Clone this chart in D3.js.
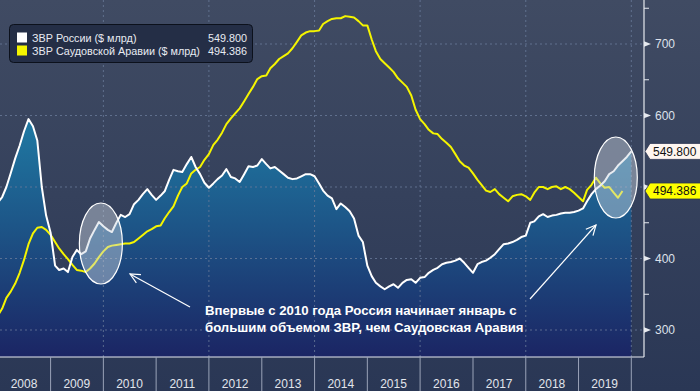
<!DOCTYPE html>
<html>
<head>
<meta charset="utf-8">
<script src="https://cdn.jsdelivr.net/npm/d3@7"></script>
<style>
  html, body { margin: 0; padding: 0; background: #2f3b57; }
  svg { display: block; }
</style>
</head>
<body>
<div id="chart"></div>
<script>
// monthly reserves, starting Jan 2008
const startMonth = "2008-01";
const russia = [
  478, 486, 500, 520, 540, 558, 578, 595, 585, 565, 500, 460,
  436, 390, 384, 386, 381, 402, 412, 406, 410, 428, 440, 451,
  445, 440, 437, 450, 461, 458, 462, 476, 482, 490, 497, 489,
  482, 488, 494, 510, 524, 522, 521, 532, 542, 528, 518, 506,
  499, 505, 511, 516, 525, 514, 512, 507, 518, 529, 528, 530,
  539, 532, 526, 528, 523, 518, 513, 511, 512, 515, 518, 518,
  515, 505, 495, 488, 484, 469, 477, 472, 466, 456, 432, 423,
  390, 375, 366, 361, 357, 361, 364, 359, 366, 370, 371, 366,
  373, 374, 380, 384, 387, 392, 394, 395, 397, 400, 394, 387,
  380, 392, 395, 397, 401, 406, 413, 420, 421, 423, 426, 430,
  432, 450, 452, 459, 462, 458, 460, 461, 463, 464, 464, 465,
  467, 470, 480, 490, 497, 502, 508, 518, 522, 530, 536, 542,
  549.8
];
const saudi = [
  320, 330, 345, 354, 365, 380, 398, 420, 435, 443, 444, 440,
  433, 423, 414, 406, 399, 391, 384, 383, 381, 386, 393, 402,
  410, 416, 418, 419, 420, 421, 421, 423, 428, 433, 438, 441,
  445, 446, 456, 465, 473, 488, 500, 505, 519, 524, 528, 538,
  546, 559, 566, 576, 588, 596, 603, 610, 620, 630, 640, 651,
  655, 656, 666, 672, 679, 683, 687, 694, 703, 712, 716, 718,
  718, 719, 728, 732, 735, 736, 736, 739, 738, 737, 732, 726,
  726, 706, 690, 679, 673, 667, 661, 652, 646, 640, 628, 608,
  595, 588, 580, 575, 574, 567, 562, 556, 546, 536, 530, 527,
  519, 510, 503, 495, 493, 497, 490, 485, 480, 487, 489, 490,
  487, 482, 492, 500, 500, 497, 500, 501, 497, 500, 497, 492,
  486, 480, 496, 503, 513, 505, 499, 500, 492, 485, 494.386
];
const years = [2008, 2009, 2010, 2011, 2012, 2013, 2014, 2015, 2016, 2017, 2018, 2019];
const yTicks = [300, 400, 500, 600, 700];
const yLabels = [300, 400, 600, 700]; // 500 sits under the yellow callout
const yMinorTicks = [350, 450, 550, 650, 750];
const gridYears = [2010, 2012, 2014, 2016, 2018, 2020];
const legendItems = [
  { name: "ЗВР России ($ млрд)", value: "549.800", color: "#ffffff" },
  { name: "ЗВР Саудовской Аравии ($ млрд)", value: "494.386", color: "#f5f500" }
];
const highlightMonths = ["2010-01", "2020-01"];
const noteLines = [
  "Впервые с 2010 года Россия начинает январь с",
  "большим объемом ЗВР, чем Саудовская Аравия"
];

const W = 700, H = 391;
const plotRight = 644, plotBottom = 357;

const parseMonth = d3.timeParse("%Y-%m");
const start = parseMonth(startMonth);
const ruData = russia.map((v, i) => ({ date: d3.timeMonth.offset(start, i), value: v }));
const saData = saudi.map((v, i) => ({ date: d3.timeMonth.offset(start, i), value: v }));

const x = d3.scaleTime()
  .domain([new Date(2008, 0, 1), new Date(2020, 0, 1)])
  .range([-2.3, 631.3]);
const y = d3.scaleLinear()
  .domain([300, 700])
  .range([330, 44]);

const svg = d3.select("#chart").append("svg")
  .attr("width", W)
  .attr("height", H);

const defs = svg.append("defs");
const bg = defs.append("linearGradient").attr("id", "bg")
  .attr("x1", 0).attr("y1", 0).attr("x2", 0).attr("y2", 1);
bg.append("stop").attr("offset", "0%").attr("stop-color", "#404b63");
bg.append("stop").attr("offset", "100%").attr("stop-color", "#2a3755");

const areaGrad = defs.append("linearGradient").attr("id", "areaGrad")
  .attr("gradientUnits", "userSpaceOnUse")
  .attr("x1", 0).attr("y1", 115).attr("x2", 0).attr("y2", plotBottom);
areaGrad.append("stop").attr("offset", "0%").attr("stop-color", "#1f7ba4");
areaGrad.append("stop").attr("offset", "45%").attr("stop-color", "#1d5688");
areaGrad.append("stop").attr("offset", "100%").attr("stop-color", "#1b2564");

const clip = defs.append("clipPath").attr("id", "plotClip");
clip.append("rect").attr("x", 0).attr("y", 0).attr("width", plotRight).attr("height", plotBottom);

svg.append("rect").attr("width", W).attr("height", H).attr("fill", "url(#bg)");

const plot = svg.append("g").attr("clip-path", "url(#plotClip)");

// russia area
const area = d3.area()
  .x(d => x(d.date))
  .y0(plotBottom)
  .y1(d => y(d.value));
plot.append("path")
  .datum(ruData)
  .attr("d", area)
  .attr("fill", "url(#areaGrad)");

// gridlines
plot.selectAll(".hgrid")
  .data(yTicks)
  .enter().append("line")
  .attr("x1", 0).attr("x2", plotRight)
  .attr("y1", d => y(d)).attr("y2", d => y(d))
  .attr("stroke", "#6a7b9a")
  .attr("stroke-width", 1)
  .attr("stroke-dasharray", "2,3")
  .attr("opacity", 0.8);
plot.selectAll(".vgrid")
  .data(gridYears)
  .enter().append("line")
  .attr("x1", d => x(new Date(d, 0, 1))).attr("x2", d => x(new Date(d, 0, 1)))
  .attr("y1", 0).attr("y2", plotBottom)
  .attr("stroke", "#6a7b9a")
  .attr("stroke-width", 1)
  .attr("stroke-dasharray", "2,3")
  .attr("opacity", 0.8);

const line = d3.line()
  .x(d => x(d.date))
  .y(d => y(d.value));

plot.append("path")
  .datum(saData)
  .attr("d", line)
  .attr("fill", "none")
  .attr("stroke", "#f5f500")
  .attr("stroke-width", 2)
  .attr("stroke-linejoin", "round");

plot.append("path")
  .datum(ruData)
  .attr("d", line)
  .attr("fill", "none")
  .attr("stroke", "#ffffff")
  .attr("stroke-width", 2)
  .attr("stroke-linejoin", "round");

// highlight ellipses
plot.selectAll(".hl")
  .data(highlightMonths)
  .enter().append("ellipse")
  .attr("cx", d => x(parseMonth(d)) - 2.5 + (d === "2020-01" ? -13 : 0))
  .attr("cy", (d, i) => i === 0 ? 243.5 : 177.5)
  .attr("rx", 21.5)
  .attr("ry", 40.5)
  .attr("fill", "rgba(205,212,225,0.45)")
  .attr("stroke", "#ffffff")
  .attr("stroke-width", 1.2);

// arrows
function arrow(x1, y1, x2, y2) {
  const a = Math.atan2(y2 - y1, x2 - x1);
  const len = 11, spread = 0.45;
  const g = svg.append("g")
    .attr("stroke", "#ffffff")
    .attr("stroke-width", 1.2)
    .attr("fill", "none");
  g.append("line").attr("x1", x1).attr("y1", y1).attr("x2", x2).attr("y2", y2);
  g.append("path").attr("d",
    `M${x2 - len * Math.cos(a - spread)},${y2 - len * Math.sin(a - spread)}` +
    `L${x2},${y2}` +
    `L${x2 - len * Math.cos(a + spread)},${y2 - len * Math.sin(a + spread)}`);
}
arrow(190, 307, 130, 274);
arrow(530, 299, 596, 225);

// annotation
const note = svg.append("text")
  .attr("x", 205)
  .attr("y", 315)
  .style("font-family", "'Liberation Sans', Arial, sans-serif")
  .style("font-weight", "bold")
  .style("font-size", "13.2px")
  .attr("fill", "#ffffff");
note.selectAll("tspan")
  .data(noteLines)
  .enter().append("tspan")
  .attr("x", 205)
  .attr("dy", (d, i) => i === 0 ? 0 : 17)
  .text(d => d);

// axis frame
svg.append("line")
  .attr("x1", plotRight).attr("x2", plotRight)
  .attr("y1", 0).attr("y2", plotBottom)
  .attr("stroke", "#e6e9ef").attr("stroke-width", 1.2);
svg.append("line")
  .attr("x1", 0).attr("x2", plotRight)
  .attr("y1", plotBottom).attr("y2", plotBottom)
  .attr("stroke", "#e6e9ef").attr("stroke-width", 1);

// right axis
const yAxis = svg.append("g").attr("transform", `translate(${plotRight},0)`);
yAxis.selectAll(".minor")
  .data(yMinorTicks)
  .enter().append("line")
  .attr("x1", 0).attr("x2", 5)
  .attr("y1", d => y(d)).attr("y2", d => y(d))
  .attr("stroke", "#e6e9ef").attr("stroke-width", 1);
yAxis.selectAll(".major")
  .data(yTicks)
  .enter().append("path")
  .attr("d", d => `M0,${y(d) - 2.8}L7,${y(d)}L0,${y(d) + 2.8}Z`)
  .attr("fill", "#e6e9ef");
yAxis.selectAll(".lbl")
  .data(yLabels)
  .enter().append("text")
  .attr("x", 11)
  .attr("y", d => y(d) + 4.3)
  .style("font-family", "'Liberation Sans', Arial, sans-serif")
  .style("font-size", "12px")
  .attr("fill", "#dde1ea")
  .text(d => d);

// value callouts
const lastRu = ruData[ruData.length - 1].value;
const lastSa = saData[saData.length - 1].value;
const callouts = [
  { v: lastRu, fill: "#fff6f0", label: legendItems[0].value },
  { v: lastSa, fill: "#ffff00", label: legendItems[1].value }
];
const co = svg.selectAll(".callout")
  .data(callouts)
  .enter().append("g")
  .attr("transform", d => `translate(${plotRight + 1},${y(d.v)})`);
co.append("path")
  .attr("d", "M0,0L5,-8H56V8H5Z")
  .attr("fill", d => d.fill)
  .attr("stroke", "#2a3450")
  .attr("stroke-width", 0.8);
co.append("text")
  .attr("x", 8)
  .attr("y", 4.3)
  .style("font-family", "'Liberation Sans', Arial, sans-serif")
  .style("font-size", "12px")
  .attr("fill", "#111111")
  .text(d => d.label);

// bottom year strip
svg.selectAll(".sep")
  .data(years.concat([2020]))
  .enter().append("line")
  .attr("x1", d => x(new Date(d, 0, 1))).attr("x2", d => x(new Date(d, 0, 1)))
  .attr("y1", plotBottom).attr("y2", H)
  .attr("stroke", "#9aa3b8").attr("stroke-width", 1);
svg.selectAll(".year")
  .data(years)
  .enter().append("text")
  .attr("x", d => x(new Date(d, 6, 1)))
  .attr("y", 388)
  .attr("text-anchor", "middle")
  .style("font-family", "'Liberation Sans', Arial, sans-serif")
  .style("font-size", "12px")
  .attr("fill", "#e2e5ec")
  .text(d => d);

// legend
const legend = svg.append("g").attr("transform", "translate(9.5,24.5)");
legend.append("rect")
  .attr("width", 243)
  .attr("height", 38)
  .attr("rx", 4)
  .attr("fill", "#242e46")
  .attr("stroke", "#0c111c")
  .attr("stroke-width", 1);
const li = legend.selectAll(".li")
  .data(legendItems)
  .enter().append("g")
  .attr("transform", (d, i) => `translate(0,${8 + i * 13})`);
li.append("rect")
  .attr("x", 7.5).attr("y", 0)
  .attr("width", 10).attr("height", 10)
  .attr("fill", d => d.color);
li.append("text")
  .attr("x", 22.5).attr("y", 9)
  .style("font-family", "'Liberation Sans', Arial, sans-serif")
  .style("font-size", "10.8px")
  .attr("fill", "#e8ebf2")
  .text(d => d.name);
li.append("text")
  .attr("x", 237.5).attr("y", 9)
  .attr("text-anchor", "end")
  .style("font-family", "'Liberation Sans', Arial, sans-serif")
  .style("font-size", "10.8px")
  .attr("fill", "#e8ebf2")
  .text(d => d.value);
</script>
</body>
</html>
